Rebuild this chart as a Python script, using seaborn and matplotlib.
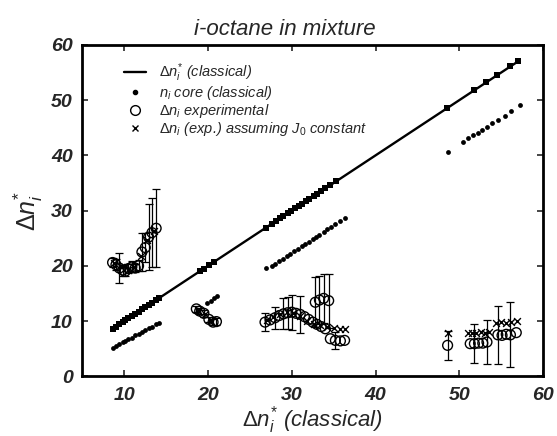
import numpy as np
import pandas as pd
import matplotlib
matplotlib.use("Agg")
import matplotlib.pyplot as plt
from matplotlib.lines import Line2D
import seaborn as sns

# ---- data ----
classical_x = [8.6, 9.0, 9.4, 9.8, 10.1, 10.5, 10.9, 11.3, 11.7, 12.1, 12.5, 12.9, 13.3, 13.8, 14.2,
               19.0, 19.5, 20.1, 20.7,
               26.9, 27.6, 28.1, 28.6, 29.0, 29.5, 29.9, 30.4, 30.8, 31.2, 31.7, 32.1, 32.6, 33.0,
               33.5, 34.0, 34.6, 35.3,
               48.5, 51.8, 53.2, 54.5, 56.1, 57.0]
classical_y = list(classical_x)

core_x = [8.6, 9.0, 9.4, 9.8, 10.1, 10.5, 10.9, 11.3, 11.7, 12.1, 12.5, 12.9, 13.3, 13.8, 14.2,
          19.9, 20.3, 20.7, 21.1,
          26.9, 27.6, 28.0, 28.5, 28.9, 29.4, 29.8, 30.3, 30.7, 31.2, 31.6, 32.0, 32.5, 32.9,
          33.3, 33.8, 34.2, 34.7, 35.2, 35.7, 36.3,
          48.6, 50.4, 51.0, 51.6, 52.2, 52.7, 53.3, 53.9, 54.6, 55.4, 56.2, 57.2]
core_y = [5.2, 5.5, 5.8, 6.2, 6.4, 6.7, 7.0, 7.4, 7.7, 8.0, 8.3, 8.7, 9.0, 9.4, 9.7,
          13.2, 13.6, 14.1, 14.5,
          19.6, 20.0, 20.4, 20.8, 21.2, 21.7, 22.1, 22.6, 23.0, 23.5, 23.9, 24.3, 24.8, 25.2,
          25.6, 26.1, 26.6, 27.1, 27.6, 28.1, 28.7,
          40.6, 42.4, 43.2, 43.6, 44.1, 44.6, 45.2, 45.8, 46.4, 47.2, 48.0, 49.1]

exp_x = [8.6, 9.0, 9.4, 9.8, 10.1, 10.5, 10.9, 11.3, 11.7, 12.1, 12.5, 12.9, 13.3, 13.8,
         18.6, 19.0, 19.5, 20.1, 20.6, 21.0,
         26.8, 27.4, 28.0, 28.5, 29.0, 29.5, 30.0, 30.5, 31.0, 31.5, 32.0, 32.5, 33.0, 33.5,
         34.0, 32.8, 33.3, 33.8, 34.4, 34.6, 35.2, 35.8, 36.3,
         48.6, 51.3, 51.8, 52.3, 52.8, 53.3, 54.6, 55.1, 55.6, 56.1, 56.8]
exp_y = [20.6, 20.2, 19.6, 19.2, 19.0, 19.5, 19.8, 19.6, 20.0, 22.5, 23.3, 25.2, 26.0, 26.8,
         12.2, 11.8, 11.4, 10.3, 9.8, 9.9,
         9.8, 10.2, 10.6, 11.0, 11.3, 11.5, 11.6, 11.4, 11.2, 10.8, 10.3, 9.8, 9.4, 9.0,
         8.6, 13.4, 13.8, 14.1, 13.7, 6.8, 6.5, 6.4, 6.5,
         5.6, 5.9, 5.9, 6.0, 6.0, 6.2, 7.5, 7.4, 7.6, 7.5, 7.9]
exp_err = [0.8, 1.0, 2.8, 1.0, 0.8, 0.8, 1.0, 0.8, 1.0, 3.4, 2.6, 6.0, 6.2, 7.1,
           0.5, 0.6, 0.6, 0.5, 0.5, 0.6,
           1.6, 0, 2.0, 0, 2.8, 2.9, 3.2, 0, 3.3, 0, 0, 0, 0, 0,
           0, 4.5, 4.3, 4.4, 4.9, 0, 1.5, 0, 0,
           2.6, 0, 3.5, 0, 0, 3.9, 5.3, 0, 0, 5.9, 0]

j0_x = [8.8, 9.6, 10.4, 11.2, 12.0, 12.7, 13.5,
        18.8, 19.6, 20.4,
        27.0, 27.8, 28.6, 29.4, 30.2, 31.0, 31.8, 32.6, 33.4, 34.2, 35.0, 35.8, 36.4,
        48.6, 51.0, 51.5, 52.0, 52.6, 53.1, 53.6, 54.4, 55.0, 55.6, 56.2, 56.9]
j0_y = [20.5, 19.8, 19.3, 19.7, 21.8, 24.6, 26.3,
        12.0, 11.2, 10.0,
        10.2, 10.8, 11.3, 11.6, 11.5, 11.0, 10.0, 9.5, 9.2, 9.0, 8.8, 8.5, 8.6,
        7.8, 7.8, 7.9, 7.8, 8.0, 7.9, 8.0, 9.6, 9.8, 9.7, 9.9, 10.0]

title = "i-octane in mixture"
x_ticks = [10, 20, 30, 40, 50, 60]
y_ticks = [0, 10, 20, 30, 40, 50, 60]

# ---- style ----
sns.set_theme(style="ticks")
plt.rcParams['font.family'] = ['Liberation Sans', 'DejaVu Sans']
plt.rcParams['mathtext.fontset'] = 'custom'
plt.rcParams['mathtext.rm'] = 'Liberation Sans'
plt.rcParams['mathtext.it'] = 'Liberation Sans:italic'
plt.rcParams['mathtext.bf'] = 'Liberation Sans:bold:italic'

fig = plt.figure(figsize=(5.57, 4.36), dpi=100)
ax = fig.add_axes([0.148, 0.137, 0.827, 0.760])

df_cl = pd.DataFrame({"x": classical_x, "y": classical_y})
df_core = pd.DataFrame({"x": core_x, "y": core_y})
df_exp = pd.DataFrame({"x": exp_x, "y": exp_y, "err": exp_err})
df_j0 = pd.DataFrame({"x": j0_x, "y": j0_y})

sns.lineplot(data=df_cl, x="x", y="y", ax=ax, color="black", lw=1.7,
             marker="s", markersize=3.8, markeredgewidth=0, sort=True, estimator=None)
sns.scatterplot(data=df_core, x="x", y="y", ax=ax, color="black", s=12, linewidth=0)

e = df_exp[df_exp["err"] > 0]
ax.errorbar(e["x"], e["y"], yerr=e["err"], fmt="none", ecolor="black",
            elinewidth=0.9, capsize=3, capthick=0.9, zorder=2)
sns.scatterplot(data=df_exp, x="x", y="y", ax=ax, marker="o", s=50,
                facecolor="none", edgecolor="black", linewidth=1.0, zorder=3)
sns.scatterplot(data=df_j0, x="x", y="y", ax=ax, marker="x", s=24,
                color="black", linewidth=1.0, zorder=3)

ax.set_xlim(5, 60)
ax.set_ylim(0, 60)
ax.set_xticks(x_ticks)
ax.set_yticks(y_ticks)
ax.tick_params(direction="in", length=4, width=1.2, top=True, right=True,
               labelsize=14)
ax.tick_params(axis="x", pad=8)
ax.tick_params(axis="y", pad=7)
for lab in ax.get_xticklabels() + ax.get_yticklabels():
    lab.set_fontstyle("italic")
    lab.set_fontweight("bold")
for sp in ax.spines.values():
    sp.set_linewidth(2.0)
    sp.set_color("black")

ax.set_xlabel(r"$\Delta n_i^{*}$ (classical)", fontsize=16, fontstyle="italic", labelpad=0)
ax.set_ylabel(r"$\Delta n_i^{*}$", fontsize=18, labelpad=4)
ax.set_title(title, fontsize=16, fontstyle="italic", x=0.44, pad=7)

handles = [
    Line2D([], [], color="black", lw=1.7),
    Line2D([], [], color="black", marker="o", ls="none", markersize=3),
    Line2D([], [], color="black", marker="o", ls="none", markersize=7, mfc="none", mew=1.0),
    Line2D([], [], color="black", marker="x", ls="none", markersize=5, mew=1.0),
]
labels = [r"$\Delta n_i^{*}$ (classical)",
          r"$n_i$ core (classical)",
          r"$\Delta n_i$ experimental",
          r"$\Delta n_i$ (exp.) assuming $J_0$ constant"]
leg = ax.legend(handles, labels, loc="upper left", bbox_to_anchor=(0.065, 0.985),
                frameon=False, fontsize=10.5, handlelength=1.5, handletextpad=0.9,
                labelspacing=0.0, borderpad=0.3)
for t in leg.get_texts():
    t.set_fontstyle("italic")

fig.savefig("out.png", dpi=100)
